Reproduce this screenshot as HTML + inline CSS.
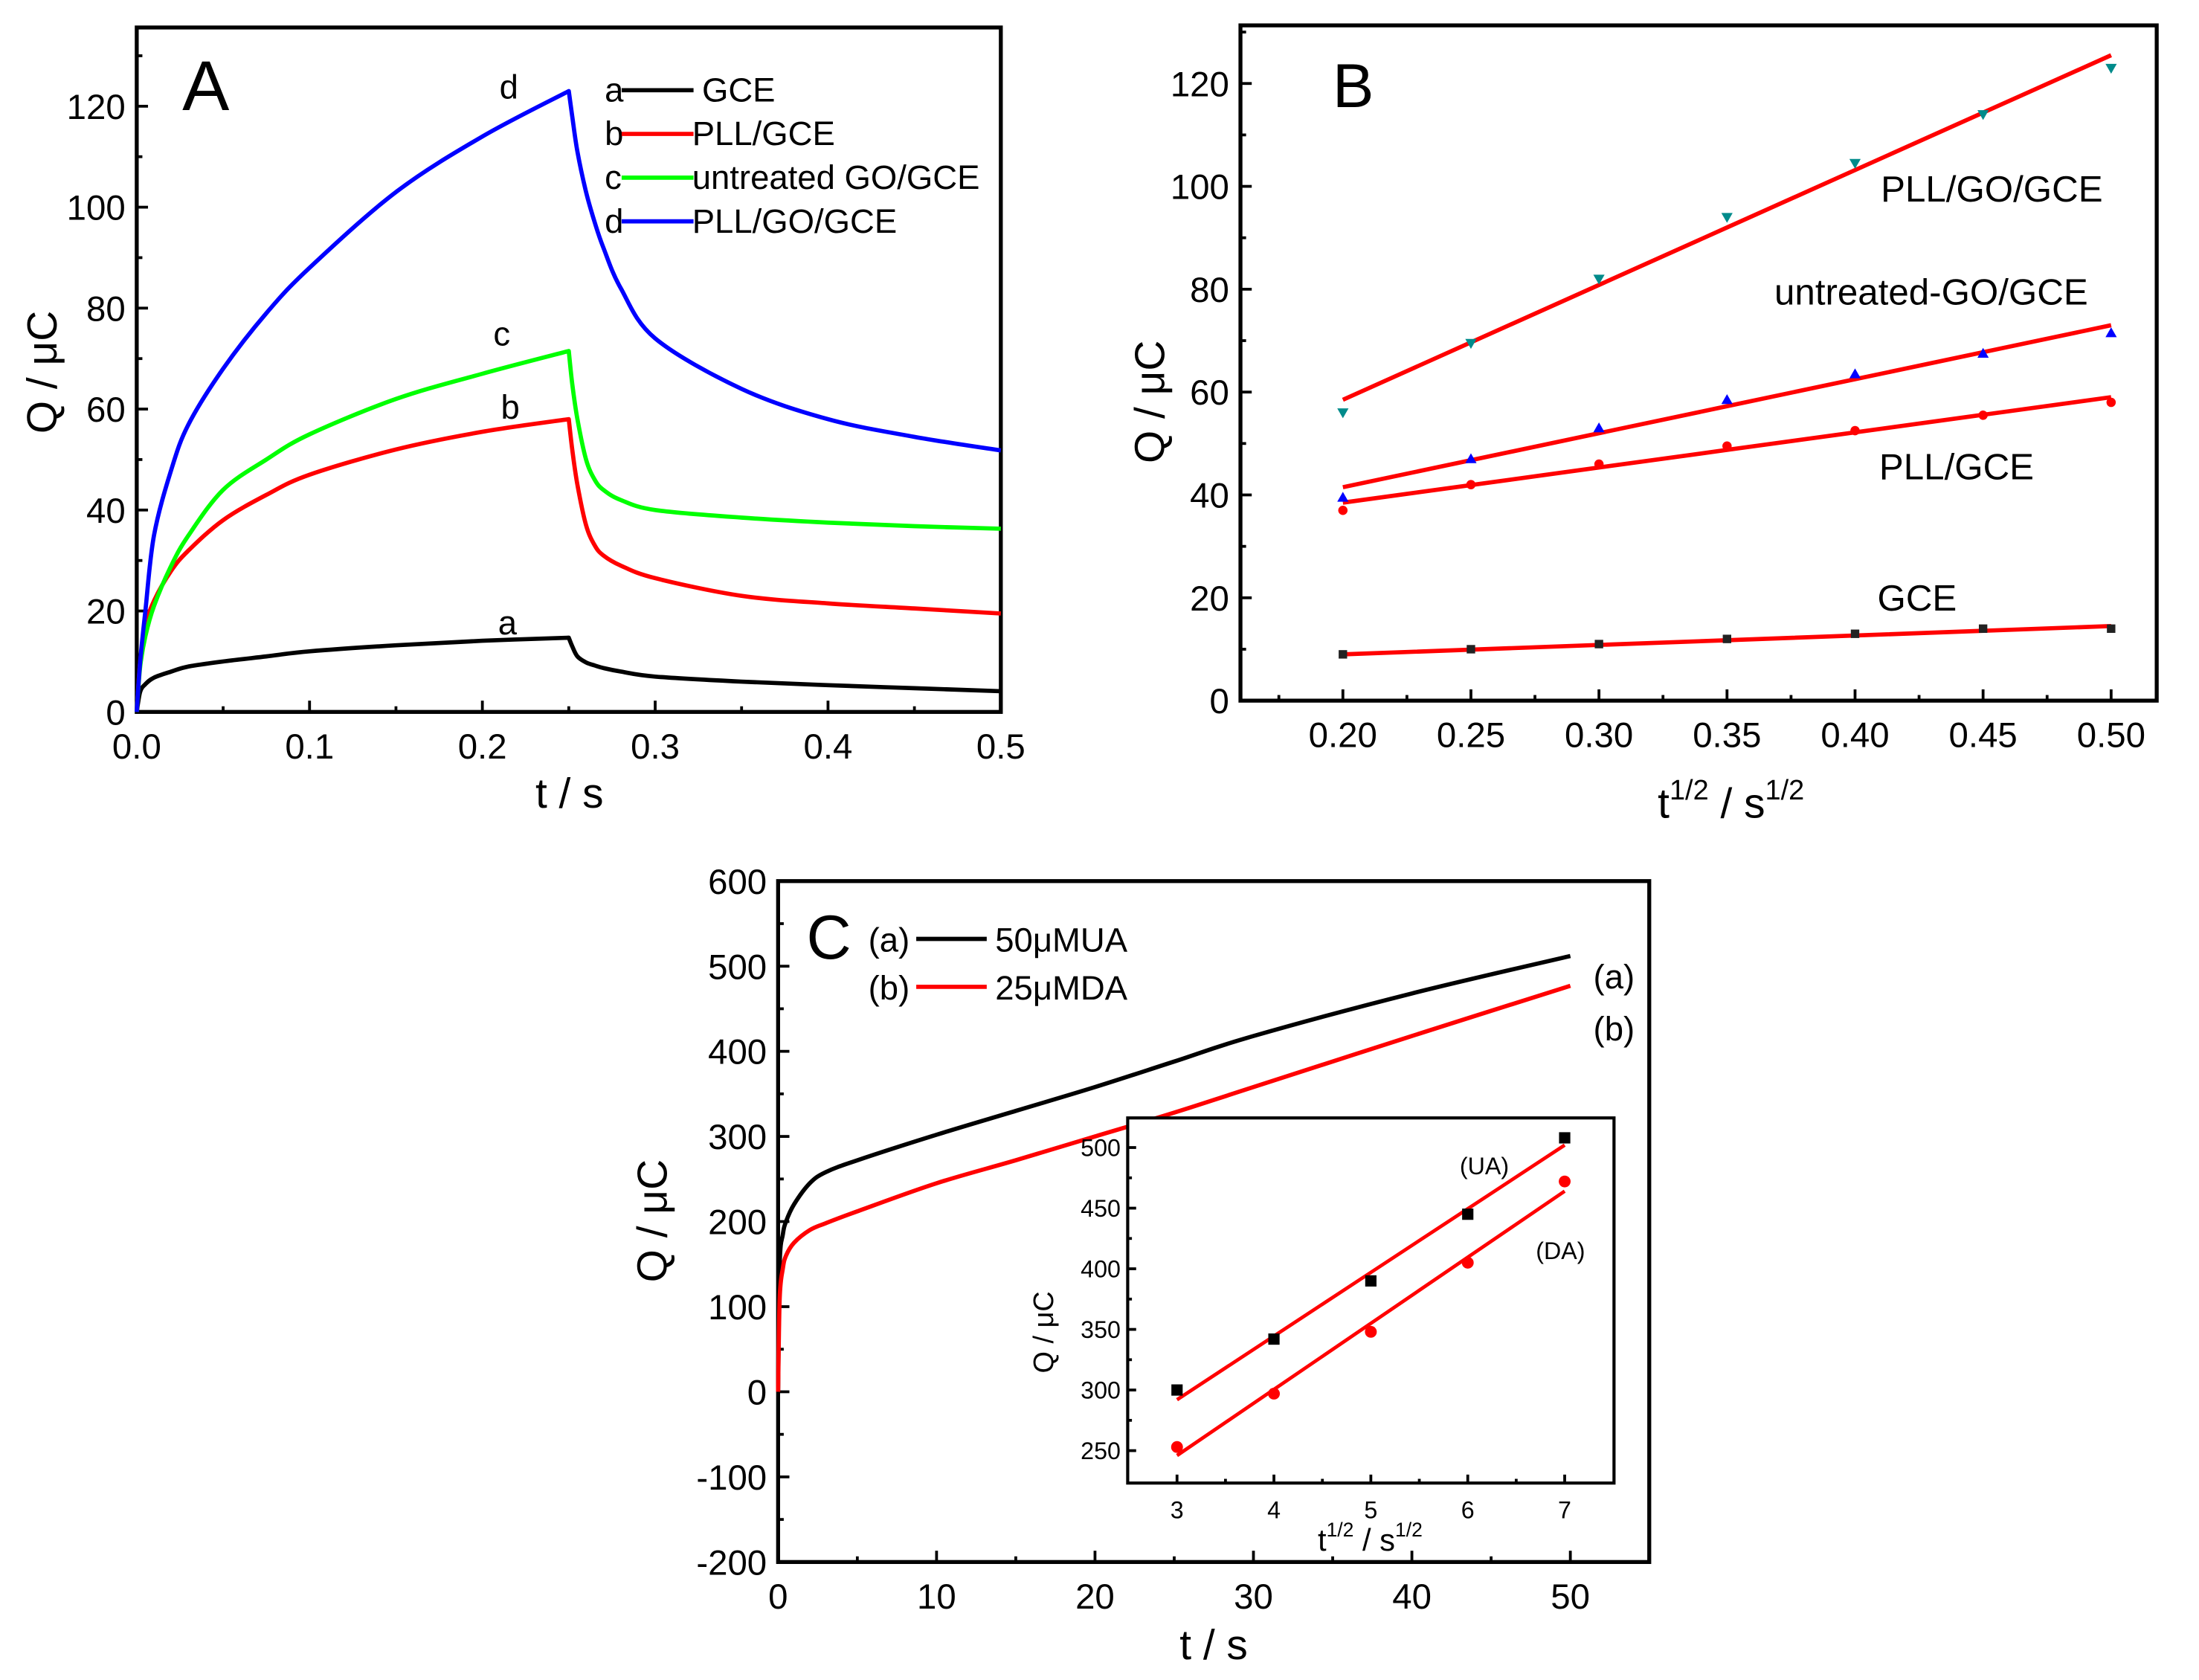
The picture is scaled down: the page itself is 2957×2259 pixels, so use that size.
<!DOCTYPE html>
<html><head><meta charset="utf-8"><style>
html,body{margin:0;padding:0;background:#fff}
svg{display:block}
text{font-family:"Liberation Sans",sans-serif;fill:#000}
</style></head><body>
<svg id="fig" width="2957" height="2259" viewBox="0 0 1560 1191.7" preserveAspectRatio="none" xmlns="http://www.w3.org/2000/svg"></svg>
<script>
// ---------- Panel A data ----------
const aT = [0,0.002,0.005,0.01,0.02,0.03,0.05,0.075,0.1,0.15,0.2,0.25,0.252,0.255,0.26,0.265,0.27,0.28,0.3,0.35,0.4,0.45,0.5];
const aGCE = [0,4,5.5,6.8,8,9,10,11,12,13.2,14.1,14.7,13,11,9.8,9.2,8.7,8,7,6,5.3,4.7,4.1];
const aPLL = [0,10,17,22,28,32,38,43,47,52,55.5,58,52,45,37,33,31,29,26.5,23,21.5,20.5,19.5];
const aGO = [0,9,15,21,29,35,44,50,55,62,67,71.5,65,58,50,46,44,42,40,38.5,37.5,36.8,36.3];
const aPGO = [0,10,20,35,48,57,68,79,88,103,114,123,118,111,103,97,92,84,74,64,58,54.5,51.8];
const aXTicks = [0,0.1,0.2,0.3,0.4,0.5];
const aXLabels = ["0.0","0.1","0.2","0.3","0.4","0.5"];
const aYTicks = [0,20,40,60,80,100,120];
// ---------- Panel B data ----------
const bX = [0.20,0.25,0.30,0.35,0.40,0.45,0.50];
const bPGO = [56,69.5,82,94,104.5,114,123];
const bGO = [39.5,47,53,58.5,63.5,67.5,71.5];
const bPLL = [37,42,46,49.5,52.5,55.5,58];
const bGCE = [9,10,11,12,13,14,14];
const bFitPGO = [58.5,125.5];
const bFitGO = [41.5,73];
const bFitPLL = [38.5,59];
const bFitGCE = [9,14.5];
const bXTicks = [0.20,0.25,0.30,0.35,0.40,0.45,0.50];
const bXLabels = ["0.20","0.25","0.30","0.35","0.40","0.45","0.50"];
const bYTicks = [0,20,40,60,80,100,120];
// ---------- Panel C data ----------
const cT = [0,0.1,0.3,0.5,1,2,3,5,10,15,20,25,30,40,50];
const cUA = [0,150,185,200,220,245,258,272,302,330,358,388,418,468,512];
const cDA = [0,110,145,160,175,190,198,212,245,272,300,328,358,418,477];
const cXTicks = [0,10,20,30,40,50];
const cYTicks = [-200,-100,0,100,200,300,400,500,600];
// inset
const iX = [3,4,5,6,7];
const iUA = [300,342,390,445,508];
const iDA = [253,297,348,405,472];
const iFitUA = [292,502];
const iFitDA = [246,464];
const iXTicks = [3,4,5,6,7];
const iYTicks = [250,300,350,400,450,500];

const NS="http://www.w3.org/2000/svg";
const svg=document.getElementById('fig');
function mk(tag,attrs,parent){const e=document.createElementNS(NS,tag);for(const k in attrs)e.setAttribute(k,attrs[k]);(parent||svg).appendChild(e);return e;}
function txt(s,x,y,size,anchor,parent){const t=mk('text',{x:x,y:y,'font-size':size,'text-anchor':anchor||'middle'},parent);t.textContent=s;return t;}
function axes(name,L,R,T,B,x0,x1,y0,y1){
  const g=mk('g',{});
  
  
  const sx=v=>L+(v-x0)/(x1-x0)*(R-L), sy=v=>B-(v-y0)/(y1-y0)*(B-T);
  return {g,sx,sy,L,R,T,B};
}
function frame(ax,sw){
  const r=mk('rect',{x:ax.L,y:ax.T,width:ax.R-ax.L,height:ax.B-ax.T,fill:'none',stroke:'#000','stroke-width':sw},ax.g);
  
  
}
function xticks(ax,ticks,labels,minor,fs,len,off){
  ticks.forEach((v,i)=>{const x=ax.sx(v);mk('line',{x1:x,x2:x,y1:ax.B,y2:ax.B-len,stroke:'#000','stroke-width':2},ax.g);
    const t=txt(labels?labels[i]:String(v),x,ax.B+off,fs,'middle',ax.g);
    
    });
  minor.forEach(v=>{const x=ax.sx(v);mk('line',{x1:x,x2:x,y1:ax.B,y2:ax.B-len/2,stroke:'#000','stroke-width':2},ax.g);});
}
function yticks(ax,ticks,minor,fs,len,off){
  ticks.forEach(v=>{const y=ax.sy(v);mk('line',{x1:ax.L,x2:ax.L+len,y1:y,y2:y,stroke:'#000','stroke-width':2},ax.g);
    const t=txt(String(v),ax.L-off,y+fs*0.36,fs,'end',ax.g);
    
    });
  minor.forEach(v=>{const y=ax.sy(v);mk('line',{x1:ax.L,x2:ax.L+len/2,y1:y,y2:y,stroke:'#000','stroke-width':2},ax.g);});
}
// smooth Catmull-Rom path, split at break indices (sharp corners)
function smoothPath(pts,breaks){
  const segs=[];let start=0;
  (breaks||[]).concat([pts.length-1]).forEach(b=>{segs.push(pts.slice(start,b+1));start=b;});
  let d='M'+pts[0][0]+','+pts[0][1];
  segs.forEach(s=>{
    for(let i=0;i<s.length-1;i++){
      const p0=s[Math.max(i-1,0)],p1=s[i],p2=s[i+1],p3=s[Math.min(i+2,s.length-1)];
      const c1=[p1[0]+(p2[0]-p0[0])/6,p1[1]+(p2[1]-p0[1])/6];
      const c2=[p2[0]-(p3[0]-p1[0])/6,p2[1]-(p3[1]-p1[1])/6];
      d+=` C${c1[0]},${c1[1]} ${c2[0]},${c2[1]} ${p2[0]},${p2[1]}`;
    }
  });
  return d;
}
function line(ax,xs,ys,color,w,name,breaks){
  const pts=xs.map((x,i)=>[ax.sx(x),ax.sy(ys[i])]);
  const p=mk('path',{d:smoothPath(pts,breaks),fill:'none',stroke:color,'stroke-width':w,'stroke-linejoin':'round'},ax.g);
  
  
}
function range(a,b,s){const r=[];for(let v=a;v<=b+1e-9;v+=s)r.push(+v.toFixed(4));return r;}

// ===== Panel A =====
const A=axes('panel-a',97,710,19.5,505,0,0.5,0,135.6);
frame(A,2.8);
xticks(A,aXTicks,aXLabels,range(0.05,0.45,0.1),25,8,33);
yticks(A,aYTicks,range(10,130,20),25,8,8);
const peak=aT.indexOf(0.25);
line(A,aT,aGCE,'#000',3,'curve-a-gce',[peak]);
line(A,aT,aPLL,'#ff0000',3,'curve-b-pll-gce',[peak]);
line(A,aT,aGO,'#00ff00',3,'curve-c-untreated-go-gce',[peak]);
line(A,aT,aPGO,'#0000ff',3,'curve-d-pll-go-gce',[peak]);
let t;
t=txt('A',146,78,50,'middle',A.g);
[['d',361,70],['c',356,245],['b',362,297],['a',360,450]].forEach(([s,x,y])=>{const e=txt(s,x,y,24,'middle',A.g);});
const legA=[['a','#000','GCE',498],['b','#ff0000','PLL/GCE',491],['c','#00ff00','untreated GO/GCE',491],['d','#0000ff','PLL/GO/GCE',491]];
legA.forEach(([k,c,lab,tx],i)=>{const y=64+i*31;
  const lg=mk('g',{},A.g);
  
  
  txt(k,429,y+8,24,'start',lg);
  mk('line',{x1:441,x2:492,y1:y,y2:y,stroke:c,'stroke-width':3},lg);
  txt(lab,tx,y+8,24,'start',lg);});
t=txt('t / s',404,573,30,'middle',A.g);
t=txt('Q / μC',0,0,30,'middle',A.g);t.setAttribute('transform','translate(40,264) rotate(-90)');

// ===== Panel B =====
const B=axes('panel-b',880,1530,18,497,0.16,0.5178,0,131.3);
frame(B,2.8);
xticks(B,bXTicks,bXLabels,range(0.175,0.525,0.05).filter(v=>v<0.517),25,8,33);
yticks(B,bYTicks,range(10,130,20),25,8,8);
line(B,[0.2,0.5],bFitPGO,'#ff0000',3,'fit-pll-go-gce');
line(B,[0.2,0.5],bFitGO,'#ff0000',3,'fit-untreated-go-gce');
line(B,[0.2,0.5],bFitPLL,'#ff0000',3,'fit-pll-gce');
line(B,[0.2,0.5],bFitGCE,'#ff0000',3,'fit-gce');
bX.forEach((x,i)=>{
  const X=B.sx(x);
  let y=B.sy(bPGO[i]);
  let e=mk('polygon',{points:`${X-4},${y-3} ${X+4},${y-3} ${X},${y+4}`,fill:'#008b8b'},B.g);
  
  y=B.sy(bGO[i]);
  e=mk('polygon',{points:`${X-4},${y+3} ${X+4},${y+3} ${X},${y-4}`,fill:'#0000ff'},B.g);
  
  e=mk('circle',{cx:X,cy:B.sy(bPLL[i]),r:3.3,fill:'#ff0000'},B.g);
  
  e=mk('rect',{x:X-3,y:B.sy(bGCE[i])-3,width:6,height:6,fill:'#222'},B.g);
  
});
t=txt('B',960,76,44,'middle',B.g);
[['PLL/GO/GCE',1413,143],['untreated-GO/GCE',1370,216],['PLL/GCE',1388,340],['GCE',1360,433]].forEach(([s,x,y])=>{const e=txt(s,x,y,26,'middle',B.g);});
t=mk('text',{x:1228,y:580,'font-size':30,'text-anchor':'middle'},B.g);
t.innerHTML='t<tspan font-size="20" dy="-13">1/2</tspan><tspan dy="13"> / s</tspan><tspan font-size="20" dy="-13">1/2</tspan>';

t=txt('Q / μC',0,0,30,'middle',B.g);t.setAttribute('transform','translate(826,285) rotate(-90)');

// ===== Panel C =====
const C=axes('panel-c',552,1170,625,1108,0,54.98,-200,600);
frame(C,2.8);
xticks(C,cXTicks,null,range(5,55,10).filter(v=>v<55),25,8,33);
yticks(C,cYTicks,range(-150,550,100),25,8,8);
line(C,cT,cUA,'#000',3,'curve-a-50um-ua');
line(C,cT,cDA,'#ff0000',3,'curve-b-25um-da');
t=txt('C',588,680,44,'middle',C.g);
[['(a)','#000','50μMUA',666],['(b)','#ff0000','25μMDA',700]].forEach(([k,c,lab,y],i)=>{
  const lg=mk('g',{},C.g);
  
  
  txt(k,616,y+9,24,'start',lg);
  mk('line',{x1:650,x2:700,y1:y,y2:y,stroke:c,'stroke-width':3},lg);
  txt(lab,706,y+9,24,'start',lg);});
t=txt('(a)',1145,701,24,'middle',C.g);
t=txt('(b)',1145,738,24,'middle',C.g);
t=txt('t / s',861,1177,30,'middle',C.g);
t=txt('Q / μC',0,0,30,'middle',C.g);t.setAttribute('transform','translate(473,866) rotate(-90)');

// inset
mk('rect',{x:800,y:793,width:345,height:259,fill:'#fff'});
const I=axes('inset-chart',800,1145,793,1052,2.491,7.509,549.4,248.8);
I.sy=v=>1029-(v-250)/250*215;
frame(I,2.2);
xticks(I,iXTicks,null,range(3.5,6.5,1),17,6,25);
yticks(I,iYTicks,range(275,475,50),17,6,5);
line(I,[3,7],iFitUA,'#ff0000',2.5,'inset-fit-ua');
line(I,[3,7],iFitDA,'#ff0000',2.5,'inset-fit-da');
iX.forEach((x,i)=>{
  let e=mk('rect',{x:I.sx(x)-4,y:I.sy(iUA[i])-4,width:8,height:8,fill:'#000'},I.g);
  
  e=mk('circle',{cx:I.sx(x),cy:I.sy(iDA[i]),r:4.2,fill:'#ff0000'},I.g);
  
});
t=txt('(UA)',1053,833,17,'middle',I.g);
t=txt('(DA)',1107,893,17,'middle',I.g);
t=mk('text',{x:972,y:1100,'font-size':22,'text-anchor':'middle'},I.g);
t.innerHTML='t<tspan font-size="14" dy="-10">1/2</tspan><tspan dy="10"> / s</tspan><tspan font-size="14" dy="-10">1/2</tspan>';

t=txt('Q / μC',0,0,20,'middle',I.g);t.setAttribute('transform','translate(747,945) rotate(-90)');
</script>
</body></html>
